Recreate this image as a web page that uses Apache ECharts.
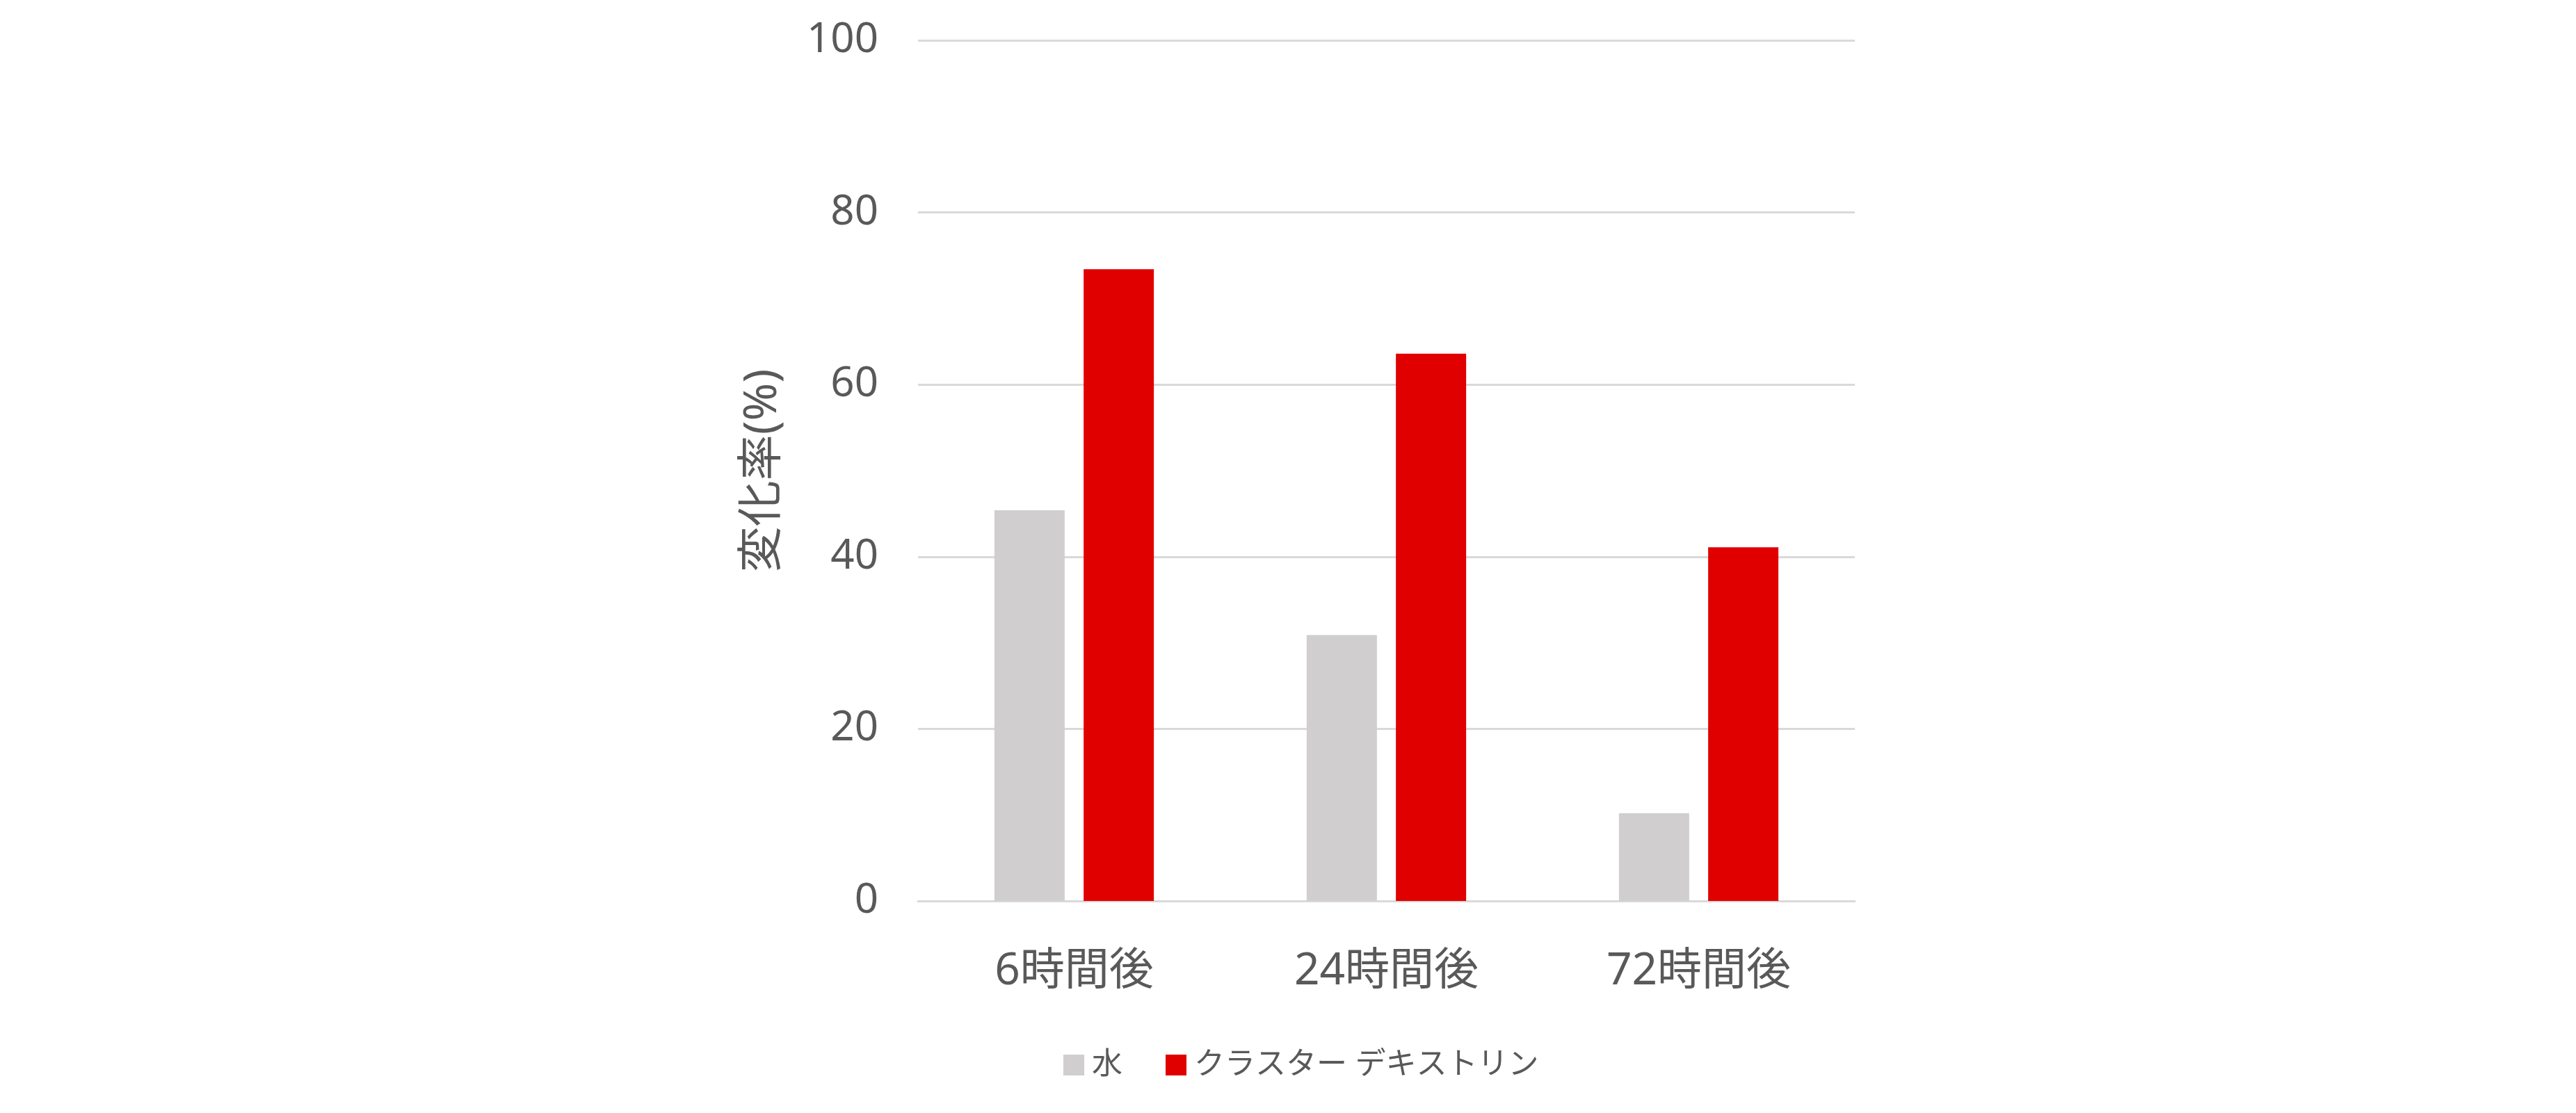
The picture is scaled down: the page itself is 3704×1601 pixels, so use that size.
<!DOCTYPE html>
<html>
<head>
<meta charset="utf-8">
<script src="https://cdn.jsdelivr.net/npm/echarts@6/dist/echarts.min.js"></script>
<style>html,body{margin:0;padding:0;background:#fff;}#c{width:3704px;height:1601px;}</style>
</head>
<body>
<div id="c"></div>
<script>
const categories = ['6時間後', '24時間後', '72時間後'];
const waterValues = [45.4, 30.9, 10.2];
const dextrinValues = [73.4, 63.6, 41.1];
const seriesNames = ['水', 'クラスター デキストリン'];
const yAxisName = '変化率(%)';

const FONT = '"Noto Sans", "Noto Sans CJK JP", sans-serif';
const TXT = '#595959';
const chart = echarts.init(document.getElementById('c'), null, {renderer: 'canvas'});
chart.setOption({
  backgroundColor: '#ffffff',
  animation: false,
  textStyle: {fontFamily: FONT, color: TXT},
  grid: {left: 1320, right: 1037, top: 58, bottom: 305, containLabel: false},
  legend: {
    data: seriesNames,
    left: 1524,
    top: 1505,
    itemWidth: 30,
    itemHeight: 30,
    itemGap: 62,
    icon: 'rect',
    textStyle: {fontFamily: FONT, fontSize: 44, color: TXT, padding: [0, 0, 0, 6]}
  },
  xAxis: {
    type: 'category',
    data: categories,
    axisLine: {show: true, lineStyle: {color: '#D9D9D9', width: 3}},
    axisTick: {show: false},
    axisLabel: {fontFamily: FONT, fontSize: 64, color: TXT, margin: 70}
  },
  yAxis: {
    type: 'value',
    min: 0,
    max: 100,
    interval: 20,
    name: yAxisName,
    nameLocation: 'middle',
    nameGap: 190,
    nameRotate: 90,
    nameTextStyle: {fontFamily: FONT, fontSize: 66, color: TXT},
    axisLine: {show: false},
    axisTick: {show: false},
    axisLabel: {fontFamily: FONT, fontSize: 60, color: TXT, margin: 57},
    splitLine: {lineStyle: {color: '#D9D9D9', width: 3}}
  },
  series: [
    {name: seriesNames[0], type: 'bar', data: waterValues, barWidth: 101, barGap: '27%', itemStyle: {color: '#D0CECE'}},
    {name: seriesNames[1], type: 'bar', data: dextrinValues, barWidth: 101, barGap: '27%', itemStyle: {color: '#E00000'}}
  ]
});
</script>
</body>
</html>
